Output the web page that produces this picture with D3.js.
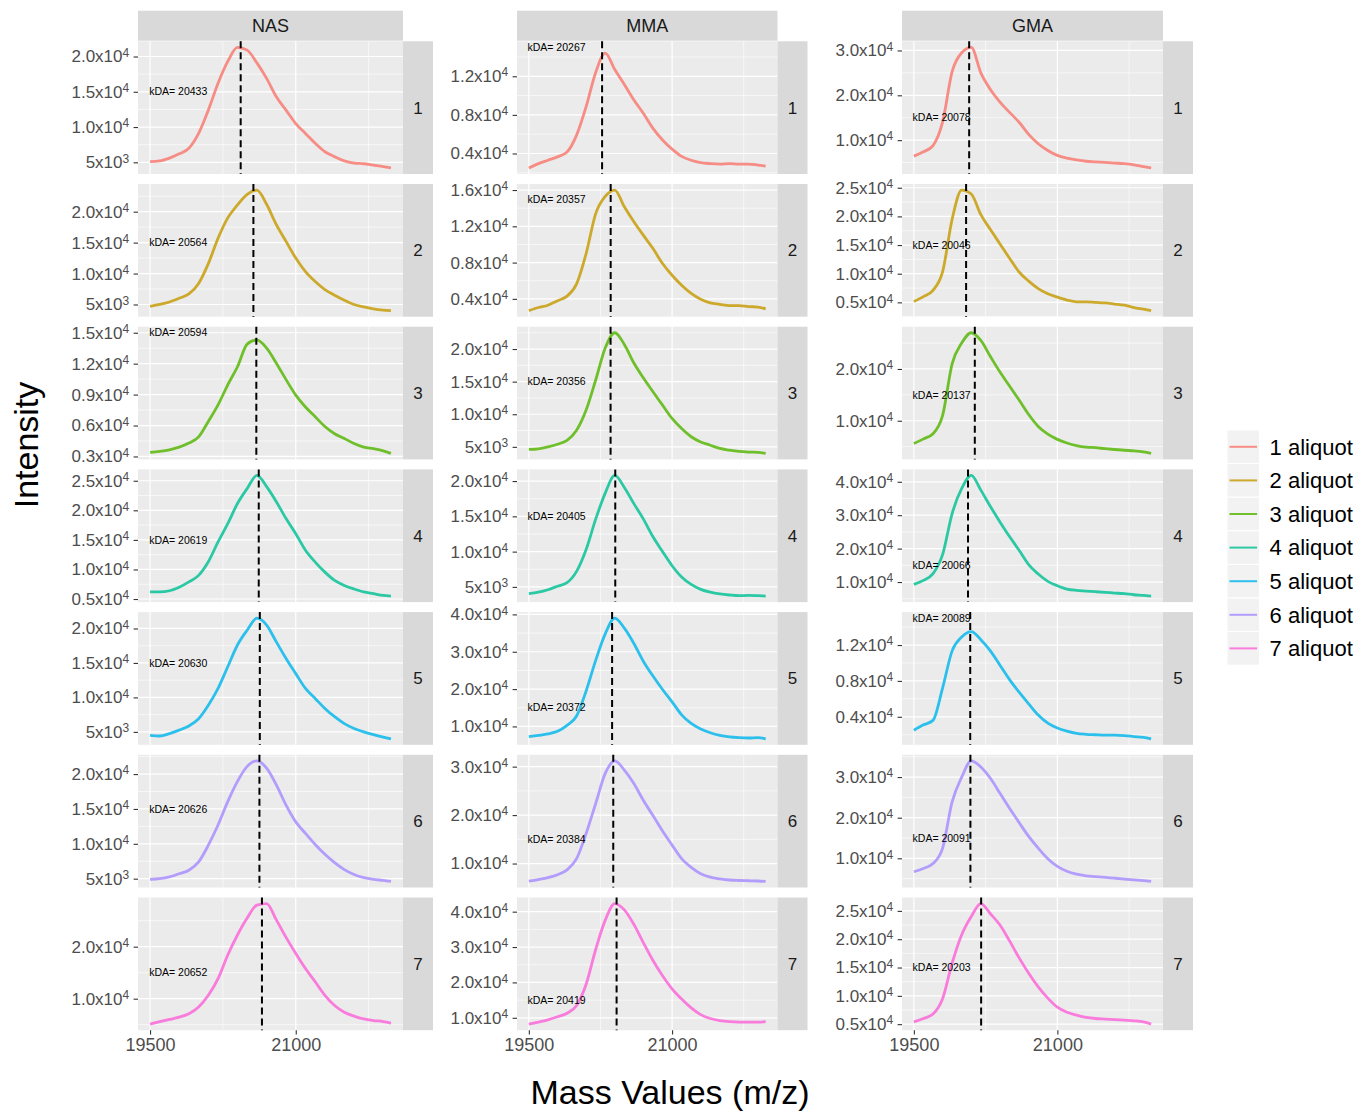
<!DOCTYPE html>
<html>
<head>
<meta charset="utf-8">
<script src="https://cdn.jsdelivr.net/npm/d3@7"></script>
<style>
  body { margin: 0; background: #fff; }
  text { font-family: "Liberation Sans", Arial, Helvetica, sans-serif; }
</style>
</head>
<body>
<div id="chart"></div>
<script>
// facet columns and rows
const samples = ["NAS", "MMA", "GMA"];
const aliquots = ["1 aliquot", "2 aliquot", "3 aliquot", "4 aliquot", "5 aliquot", "6 aliquot", "7 aliquot"];
const aliquotColors = ["#F8766D", "#C49A00", "#53B400", "#00C094", "#00B6EB", "#A58AFF", "#FB61D7"];

const massValues = [19500, 19600, 19700, 19800, 19900, 20000, 20100, 20200, 20300, 20400, 20500, 20600, 20700,
  20800, 20900, 21000, 21100, 21200, 21300, 21400, 21500, 21600, 21700, 21800, 21900, 21980];
const massTicks = [19500, 21000];

// intensities, one array per aliquot
const nasIntensity = [
  [5100, 5200, 5600, 6200, 7000, 9100, 12400, 16200, 19300, 21300, 20900, 19100, 16900, 14300, 12400, 10500, 9100, 7700, 6500, 5800, 5200, 4900, 4800, 4600, 4400, 4200],
  [4700, 5000, 5400, 6000, 6700, 8400, 11600, 15700, 19000, 21100, 22800, 23500, 21200, 17900, 15200, 12500, 10300, 8700, 7400, 6500, 5700, 5000, 4600, 4300, 4100, 4000],
  [3400, 3500, 3650, 3900, 4300, 4900, 6400, 8000, 9950, 11700, 13900, 14300, 13500, 12050, 10450, 8950, 7800, 6850, 5900, 5200, 4750, 4250, 3900, 3750, 3550, 3300],
  [6200, 6200, 6400, 7000, 7900, 9000, 11300, 14650, 17750, 21150, 23700, 25900, 24000, 21450, 18600, 16050, 13250, 11250, 9550, 8150, 7300, 6700, 6200, 5900, 5600, 5500],
  [4500, 4400, 4750, 5250, 5850, 6900, 8850, 11300, 14450, 17600, 19750, 21500, 20500, 18050, 15650, 13450, 11300, 9850, 8400, 7200, 6200, 5500, 5000, 4600, 4250, 4000],
  [4900, 5000, 5250, 5700, 6200, 7400, 9800, 12700, 16050, 18950, 21100, 21900, 20850, 18450, 15550, 13150, 11500, 9900, 8500, 7300, 6300, 5600, 5150, 4900, 4750, 4600],
  [5100, 5600, 6000, 6450, 7100, 8400, 10650, 13850, 18400, 22250, 25500, 28000, 28300, 25150, 21800, 18700, 15800, 13250, 10650, 8700, 7400, 6650, 6100, 5800, 5600, 5300]
];
const mmaIntensity = [
  [2500, 2950, 3300, 3650, 4150, 5900, 8850, 12400, 14400, 12700, 11150, 9550, 8150, 6600, 5400, 4450, 3700, 3300, 3050, 2950, 2900, 2950, 2900, 2900, 2800, 2700],
  [2700, 3050, 3300, 3800, 4300, 5650, 9000, 13400, 15300, 16000, 14150, 12500, 11000, 9550, 7900, 6600, 5500, 4600, 3950, 3550, 3400, 3250, 3250, 3150, 3100, 2900],
  [4600, 4700, 5000, 5400, 6000, 7550, 10650, 15250, 20150, 22500, 20700, 17850, 15550, 13450, 11400, 9350, 7800, 6550, 5750, 5250, 4750, 4500, 4300, 4200, 4150, 4000],
  [4050, 4250, 4600, 5100, 5600, 7200, 10300, 14600, 18300, 20800, 19100, 16800, 14600, 12100, 10000, 8000, 6400, 5350, 4650, 4250, 4000, 3850, 3750, 3800, 3750, 3700],
  [7250, 7600, 8000, 8700, 10300, 12800, 19500, 27700, 34800, 39000, 36300, 32200, 27400, 23500, 19900, 16600, 13100, 10800, 9300, 8300, 7600, 7200, 7000, 6900, 7000, 6700],
  [6350, 6700, 7100, 7700, 8700, 11000, 16200, 22400, 28600, 31200, 29300, 26500, 23000, 19900, 16700, 13800, 11000, 9200, 7900, 7200, 6850, 6600, 6500, 6450, 6400, 6300],
  [8200, 8800, 9400, 10300, 11300, 13500, 19500, 29300, 37600, 42300, 40500, 36400, 31200, 26200, 21900, 18200, 15300, 12800, 10900, 9800, 9200, 8900, 8800, 8800, 8800, 8900]
];
const gmaIntensity = [
  [6450, 7400, 8800, 14000, 25300, 29500, 30700, 25000, 21300, 18500, 16200, 14000, 11300, 9200, 7700, 6600, 6000, 5600, 5300, 5150, 5050, 4900, 4750, 4500, 4100, 3800],
  [5150, 6000, 7100, 10300, 19500, 24600, 23900, 20300, 17700, 15200, 12700, 10300, 8700, 7400, 6500, 5900, 5400, 5100, 5100, 5000, 4900, 4700, 4500, 4100, 3800, 3550],
  [5600, 6500, 7500, 11000, 21000, 25000, 27000, 25500, 22400, 19400, 16700, 14000, 11200, 8900, 7400, 6400, 5700, 5200, 4900, 4800, 4600, 4450, 4300, 4200, 4000, 3700],
  [9300, 10500, 12500, 18200, 30500, 38000, 41900, 37500, 32600, 28000, 23600, 19500, 15200, 12400, 10200, 8900, 7900, 7500, 7300, 7100, 6900, 6700, 6500, 6200, 6000, 5800],
  [2500, 3100, 3600, 7200, 11350, 12900, 13500, 12600, 11350, 9750, 8150, 6750, 5450, 4200, 3300, 2750, 2400, 2150, 2050, 2000, 1950, 1950, 1900, 1800, 1700, 1550],
  [6700, 7500, 8700, 12450, 23900, 30000, 34000, 32500, 29700, 26000, 22300, 18800, 15400, 12500, 9900, 8000, 6800, 6100, 5700, 5500, 5300, 5100, 4900, 4700, 4500, 4300],
  [5400, 6000, 6800, 9500, 15800, 20800, 24000, 26300, 24500, 22500, 19700, 16700, 14000, 11600, 9600, 8000, 7100, 6600, 6200, 6000, 5900, 5800, 5700, 5600, 5400, 5000]
];

// peak mass (dashed line + label)
const nasPeak = [20433, 20564, 20594, 20619, 20630, 20626, 20652];
const mmaPeak = [20267, 20357, 20356, 20405, 20372, 20384, 20419];
const gmaPeak = [20078, 20046, 20137, 20066, 20089, 20091, 20203];

// where the "kDA=" label sits in data units
const labelMass = 19790;
const labelIntensity = 15000;

// y tick labels for each panel
const nasTicks = [
  ["5x10^3", "1.0x10^4", "1.5x10^4", "2.0x10^4"],
  ["5x10^3", "1.0x10^4", "1.5x10^4", "2.0x10^4"],
  ["0.3x10^4", "0.6x10^4", "0.9x10^4", "1.2x10^4", "1.5x10^4"],
  ["0.5x10^4", "1.0x10^4", "1.5x10^4", "2.0x10^4", "2.5x10^4"],
  ["5x10^3", "1.0x10^4", "1.5x10^4", "2.0x10^4"],
  ["5x10^3", "1.0x10^4", "1.5x10^4", "2.0x10^4"],
  ["1.0x10^4", "2.0x10^4"]
];
const mmaTicks = [
  ["0.4x10^4", "0.8x10^4", "1.2x10^4"],
  ["0.4x10^4", "0.8x10^4", "1.2x10^4", "1.6x10^4"],
  ["5x10^3", "1.0x10^4", "1.5x10^4", "2.0x10^4"],
  ["5x10^3", "1.0x10^4", "1.5x10^4", "2.0x10^4"],
  ["1.0x10^4", "2.0x10^4", "3.0x10^4", "4.0x10^4"],
  ["1.0x10^4", "2.0x10^4", "3.0x10^4"],
  ["1.0x10^4", "2.0x10^4", "3.0x10^4", "4.0x10^4"]
];
const gmaTicks = [
  ["1.0x10^4", "2.0x10^4", "3.0x10^4"],
  ["0.5x10^4", "1.0x10^4", "1.5x10^4", "2.0x10^4", "2.5x10^4"],
  ["1.0x10^4", "2.0x10^4"],
  ["1.0x10^4", "2.0x10^4", "3.0x10^4", "4.0x10^4"],
  ["0.4x10^4", "0.8x10^4", "1.2x10^4"],
  ["1.0x10^4", "2.0x10^4", "3.0x10^4"],
  ["0.5x10^4", "1.0x10^4", "1.5x10^4", "2.0x10^4", "2.5x10^4"]
];

const intensities = [nasIntensity, mmaIntensity, gmaIntensity];
const peaks = [nasPeak, mmaPeak, gmaPeak];
const ticks = [nasTicks, mmaTicks, gmaTicks];

// layout
const width = 1360, height = 1111;
const panelLeft = [138, 517, 902];
const panelWidth = [265, 260.5, 261];
const panelTop0 = 41.3, rowStep = 142.7, panelHeight = 132.7;
const stripSize = 30;

const svg = d3.select("#chart").append("svg")
  .attr("width", width)
  .attr("height", height)
  .style("background", "#fff");

const expand = ([a, b]) => { const d = (b - a) * 0.05; return [a - d, b + d]; };
const parseTick = (s) => { const [m, e] = s.split("^"); return { m, e, v: parseFloat(m) * Math.pow(10, +e) }; };

// ggplot style minor breaks: midpoints between majors, plus half a step past the ends
const minorBreaks = (majors, dom) => {
  const step = majors[1] - majors[0];
  const ext = [majors[0] - step, ...majors, majors[majors.length - 1] + step];
  const out = [];
  for (let i = 0; i < ext.length - 1; i++) out.push((ext[i] + ext[i + 1]) / 2);
  return out.filter((v) => v > dom[0] && v < dom[1]);
};

const xDomain = expand(d3.extent(massValues));

samples.forEach((sample, c) => {
  const w = panelWidth[c];
  const x = d3.scaleLinear().domain(xDomain).range([0, w]);
  const xMinor = minorBreaks(massTicks, xDomain);

  aliquots.forEach((aliquot, r) => {
    const h = panelHeight;
    const vals = intensities[c][r];
    const yDomain = expand(d3.extent([...vals, labelIntensity]));
    const y = d3.scaleLinear().domain(yDomain).range([h, 0]);
    const tk = ticks[c][r].map(parseTick);
    const yMajor = tk.map((t) => t.v);
    const yMinor = minorBreaks(yMajor, yDomain);

    const g = svg.append("g")
      .attr("transform", `translate(${panelLeft[c]},${panelTop0 + r * rowStep})`);

    g.append("rect").attr("width", w).attr("height", h).attr("fill", "#EBEBEB");

    // grid
    g.selectAll(".ymin").data(yMinor).enter().append("line")
      .attr("x1", 0).attr("x2", w).attr("y1", (d) => y(d)).attr("y2", (d) => y(d))
      .attr("stroke", "#fff").attr("stroke-width", 0.6);
    g.selectAll(".xmin").data(xMinor).enter().append("line")
      .attr("y1", 0).attr("y2", h).attr("x1", (d) => x(d)).attr("x2", (d) => x(d))
      .attr("stroke", "#fff").attr("stroke-width", 0.6);
    g.selectAll(".ymaj").data(yMajor).enter().append("line")
      .attr("x1", 0).attr("x2", w).attr("y1", (d) => y(d)).attr("y2", (d) => y(d))
      .attr("stroke", "#fff").attr("stroke-width", 1.2);
    g.selectAll(".xmaj").data(massTicks).enter().append("line")
      .attr("y1", 0).attr("y2", h).attr("x1", (d) => x(d)).attr("x2", (d) => x(d))
      .attr("stroke", "#fff").attr("stroke-width", 1.2);

    // spectrum
    const line = d3.line()
      .x((d, i) => x(massValues[i]))
      .y((d) => y(d))
      .curve(d3.curveMonotoneX);
    g.append("path")
      .datum(vals)
      .attr("d", line)
      .attr("fill", "none")
      .attr("stroke", aliquotColors[r])
      .attr("stroke-opacity", 0.82)
      .attr("stroke-width", 2.8)
      .attr("stroke-linejoin", "round");

    // peak marker
    const px = x(peaks[c][r]);
    g.append("line")
      .attr("x1", px).attr("x2", px).attr("y1", 0).attr("y2", h)
      .attr("stroke", "#000").attr("stroke-width", 2)
      .attr("stroke-dasharray", "7,4");

    g.append("text")
      .attr("x", x(labelMass))
      .attr("y", y(labelIntensity))
      .attr("dy", "0.35em")
      .attr("text-anchor", "middle")
      .attr("font-size", "10.5px")
      .attr("fill", "#000")
      .text(`kDA= ${peaks[c][r]}`);

    // y axis
    const ay = g.append("g")
      .call(d3.axisLeft(y).tickValues(yMajor).tickSize(4.4).tickPadding(4.4));
    ay.select(".domain").remove();
    ay.selectAll(".tick line").attr("stroke", "#333").attr("stroke-width", 1.1);
    ay.selectAll(".tick text")
      .attr("fill", "#4D4D4D")
      .attr("font-size", "17px")
      .attr("font-family", '"Liberation Sans", Arial, sans-serif')
      .each(function (d, i) {
        const t = d3.select(this).text(null);
        t.append("tspan").text(tk[i].m);
        t.append("tspan").attr("dy", "-0.48em").attr("font-size", "12px").text(tk[i].e);
      });

    // right strip
    g.append("rect")
      .attr("x", w).attr("y", 0).attr("width", stripSize).attr("height", h)
      .attr("fill", "#D9D9D9");
    g.append("text")
      .attr("x", w + stripSize / 2).attr("y", h / 2).attr("dy", "0.35em")
      .attr("text-anchor", "middle").attr("font-size", "17px").attr("fill", "#1A1A1A")
      .text(r + 1);

    // top strip
    if (r === 0) {
      g.append("rect")
        .attr("x", 0).attr("y", -stripSize - 0.6).attr("width", w).attr("height", stripSize)
        .attr("fill", "#D9D9D9");
      g.append("text")
        .attr("x", w / 2).attr("y", -stripSize / 2 - 0.6).attr("dy", "0.35em")
        .attr("text-anchor", "middle").attr("font-size", "18px").attr("fill", "#1A1A1A")
        .text(sample);
    }

    // x axis on the bottom row
    if (r === aliquots.length - 1) {
      const ax = g.append("g")
        .attr("transform", `translate(0,${h})`)
        .call(d3.axisBottom(x).tickValues(massTicks).tickFormat(d3.format("d")).tickSize(4.4).tickPadding(3.5));
      ax.select(".domain").remove();
      ax.selectAll(".tick line").attr("stroke", "#333").attr("stroke-width", 1.1);
      ax.selectAll(".tick text")
        .attr("fill", "#4D4D4D")
        .attr("font-size", "18px")
        .attr("font-family", '"Liberation Sans", Arial, sans-serif');
    }
  });
});

// axis titles
svg.append("text")
  .attr("transform", "translate(38,445) rotate(-90)")
  .attr("text-anchor", "middle")
  .attr("font-size", "34px")
  .attr("fill", "#000")
  .text("Intensity");

svg.append("text")
  .attr("x", 670).attr("y", 1104)
  .attr("text-anchor", "middle")
  .attr("font-size", "34px")
  .attr("fill", "#000")
  .text("Mass Values (m/z)");

// legend
const legend = svg.append("g").attr("transform", "translate(1227,430)");
const keyW = 32.6, keyH = 33.6;
aliquots.forEach((a, i) => {
  const k = legend.append("g").attr("transform", `translate(0,${i * keyH})`);
  k.append("rect").attr("width", keyW).attr("height", keyH)
    .attr("fill", "#F2F2F2").attr("stroke", "#fff").attr("stroke-width", 1);
  k.append("line").attr("x1", 2.5).attr("x2", keyW - 2.5)
    .attr("y1", keyH / 2).attr("y2", keyH / 2)
    .attr("stroke", aliquotColors[i]).attr("stroke-opacity", 0.82).attr("stroke-width", 2);
  k.append("text").attr("x", keyW + 10).attr("y", keyH / 2).attr("dy", "0.35em")
    .attr("font-size", "22px").attr("fill", "#000")
    .text(a);
});
</script>
</body>
</html>
